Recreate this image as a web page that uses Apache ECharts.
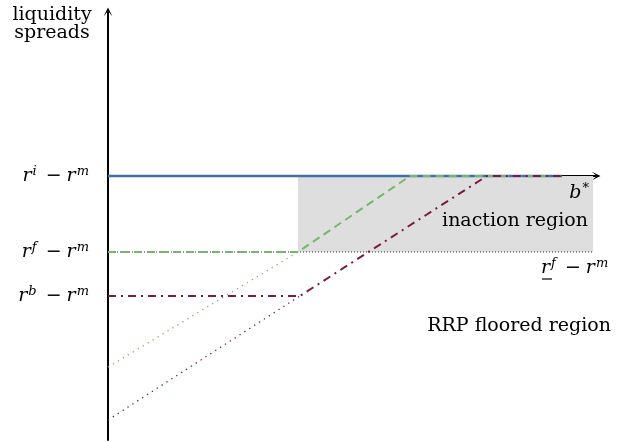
<!DOCTYPE html>
<html>
<head>
<meta charset="utf-8">
<script src="https://cdn.jsdelivr.net/npm/echarts@6/dist/echarts.min.js"></script>
<style>
  html, body { margin: 0; padding: 0; background: #fff; }
  #chart { width: 630px; height: 442px; }
</style>
</head>
<body>
<div id="chart"></div>
<script>
// Spread levels (relative to r^i - r^m) and their labels
const spreadLevels = [0, -1.9, -3.0];
const spreadLabels = [
  '{it|r}{sup|i}{op|−}{it|r}{sup|m}',
  '{it|r}{sup|f}{op|−}{it|r}{sup|m}',
  '{it|r}{sup|b}{op|−}{it|r}{sup|m}'
];

// Spread paths as functions of reserves b
const blueX = [0, 9.23];
const blueY = [0, 0];
const greenX = [0, 3.86, 6.14, 9.23];
const greenY = [-1.9, -1.9, 0, 0];
const redX = [0, 3.9, 7.7, 9.23];
const redY = [-3.0, -3.0, 0, 0];
// Dotted extensions of the sloped segments
const greenExtX = [0, 3.86];
const greenExtY = [-4.78, -1.9];
const redExtX = [0, 3.9];
const redExtY = [-6.1, -3.0];
// RRP floor
const floorX = [0, 9.84];
const floorY = [-1.9, -1.9];
// Inaction region box [x0, yTop, x1, yBottom]
const inactionBox = [3.86, 0, 9.86, -1.9];

const zip = (xs, ys) => xs.map((x, i) => [x, ys[i]]);

const serif = 'DejaVu Serif';
const textFont = '19px "DejaVu Serif"';
const mathRich = {
  it: { fontFamily: serif, fontStyle: 'italic', fontSize: 19, color: '#000', lineHeight: 22 },
  sup: { fontFamily: serif, fontStyle: 'italic', fontSize: 13, color: '#000', lineHeight: 13, verticalAlign: 'top', padding: [0, 0, 0, 1] },
  op: { fontFamily: serif, fontSize: 19, color: '#000', lineHeight: 22, padding: [0, 5, 0, 9] }
};

const arrowHead = 'path://M5,0 L10,10 L5,4 L0,10 Z';

const chart = echarts.init(document.getElementById('chart'), null, { renderer: 'canvas' });

const option = {
  animation: false,
  backgroundColor: '#fff',
  grid: { left: 108, top: 12, width: 488, height: 428 },
  xAxis: {
    type: 'value', min: 0, max: 9.92,
    axisLine: { onZero: true, lineStyle: { color: '#000', width: 2 }, symbol: ['none', arrowHead], symbolSize: [10, 9] },
    axisTick: { show: false }, axisLabel: { show: false }, splitLine: { show: false }
  },
  yAxis: {
    type: 'value', min: -6.6, max: 4.1,
    axisLine: { onZero: true, lineStyle: { color: '#000', width: 2 }, symbol: ['none', arrowHead], symbolSize: [10, 9] },
    axisTick: { show: false },
    splitLine: { show: false },
    axisLabel: {
      customValues: spreadLevels,
      margin: 19,
      formatter: function (v) {
        let best = 0;
        spreadLevels.forEach(function (l, i) { if (Math.abs(l - v) < Math.abs(spreadLevels[best] - v)) best = i; });
        return spreadLabels[best];
      },
      rich: mathRich
    }
  },
  series: [
    {
      type: 'line', data: zip(floorX, floorY), symbol: 'none', silent: true, z: 1,
      lineStyle: { color: '#333', width: 1, type: [1, 2] },
      markArea: {
        silent: true,
        itemStyle: { color: '#dedede' },
        data: [[{ coord: [inactionBox[0], inactionBox[1]] }, { coord: [inactionBox[2], inactionBox[3]] }]]
      }
    },
    {
      type: 'line', data: zip(greenExtX, greenExtY), symbol: 'none', silent: true, z: 2,
      lineStyle: { color: '#74b86b', width: 1.3, type: [1.3, 4.5] }
    },
    {
      type: 'line', data: zip(redExtX, redExtY), symbol: 'none', silent: true, z: 2,
      lineStyle: { color: '#7a1a45', width: 1.3, type: [1.3, 4.5] }
    },
    {
      type: 'line', data: zip(blueX, blueY), symbol: 'none', silent: true, z: 3,
      lineStyle: { color: '#3d70ae', width: 2.5 }
    },
    {
      type: 'line', data: zip(greenX, greenY), symbol: 'none', silent: true, z: 4,
      lineStyle: { color: '#74b86b', width: 2, type: [8, 5] }
    },
    {
      type: 'line', data: zip(redX, redY), symbol: 'none', silent: true, z: 5,
      lineStyle: { color: '#7a1a45', width: 2, type: [8, 5, 2, 5] }
    }
  ],
  graphic: [
    {
      type: 'text', x: 52, y: 24, z: 100,
      style: { text: 'liquidity\nspreads', font: textFont, fill: '#000', align: 'center', verticalAlign: 'middle', lineHeight: 18 }
    },
    {
      type: 'text', x: 589, y: 193, z: 100,
      style: { text: '{it|b}{sup|*}', rich: mathRich, align: 'right', verticalAlign: 'middle' }
    },
    {
      type: 'text', x: 588, y: 221, z: 100,
      style: { text: 'inaction region', font: textFont, fill: '#000', align: 'right', verticalAlign: 'middle' }
    },
    {
      type: 'text', x: 541, y: 268, z: 100,
      style: { text: '{it|r}{sup|f}{op|−}{it|r}{sup|m}', rich: mathRich, align: 'left', verticalAlign: 'middle' }
    },
    {
      // underline marking the lower bound r
      type: 'line', z: 100,
      shape: { x1: 542, y1: 279, x2: 552, y2: 279 },
      style: { stroke: '#000', lineWidth: 1.2 }
    },
    {
      type: 'text', x: 611, y: 326, z: 100,
      style: { text: 'RRP floored region', font: textFont, fill: '#000', align: 'right', verticalAlign: 'middle' }
    }
  ]
};

chart.setOption(option);
</script>
</body>
</html>
